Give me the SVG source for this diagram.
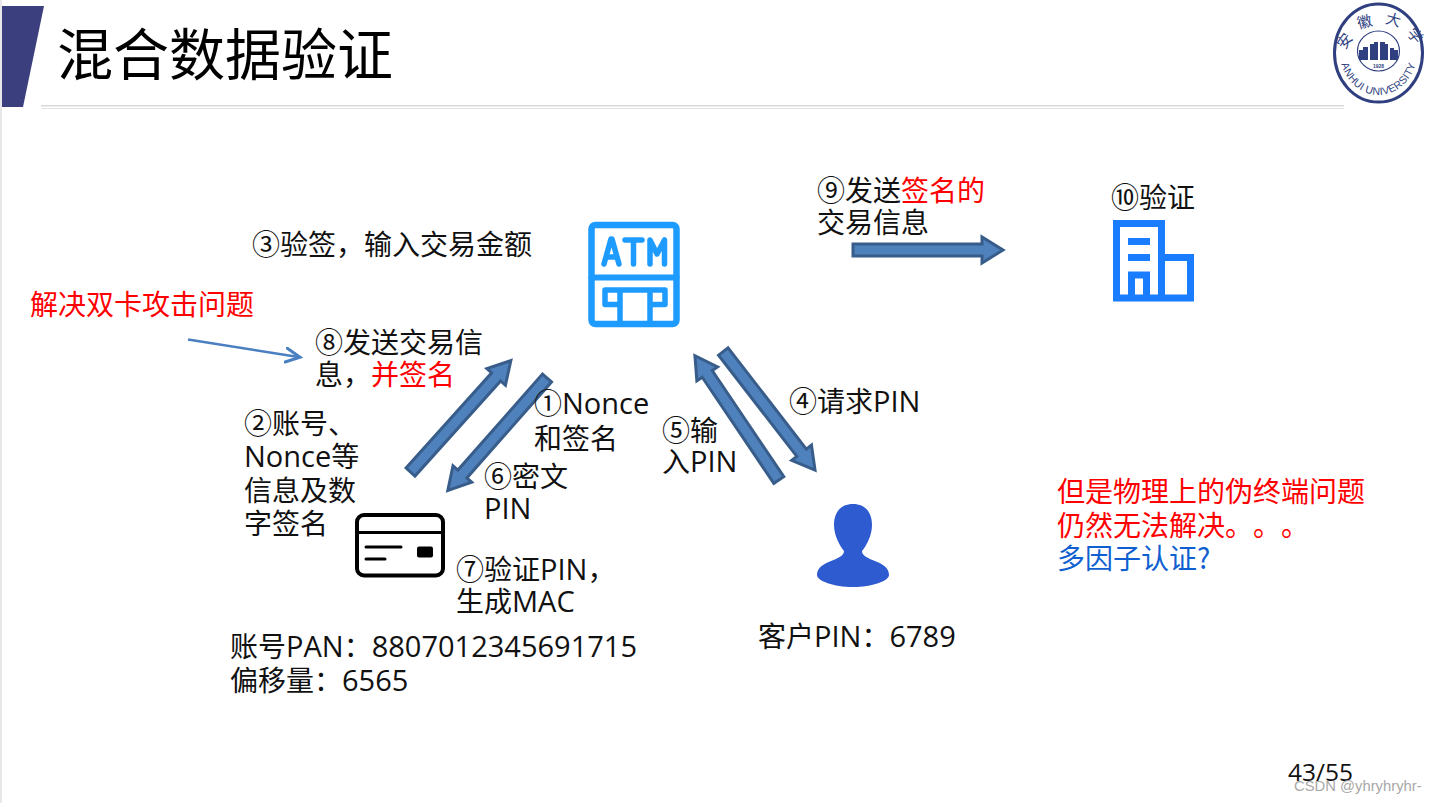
<svg xmlns="http://www.w3.org/2000/svg" width="1436" height="803" viewBox="0 0 1436 803">
<style>
text{font-family:"Noto Sans CJK SC","Open Sans",sans-serif;font-size:28px;fill:#111}
.lat{font-family:"Open Sans","Noto Sans CJK SC",sans-serif;font-size:29px}
.r{fill:#f00}
.b{fill:#0f5fd0}
.blk{fill:#4f81bd;stroke:#385d8a;stroke-width:3}
.ic{fill:none;stroke:#1e9bff;stroke-linejoin:round;stroke-linecap:round}
.bd{fill:none;stroke:#1a7cff;stroke-width:7}
.cd{fill:none;stroke:#000;stroke-width:4;stroke-linecap:round}
.lg{fill:#2f3f80}
.zi{font-size:15px;fill:#2f3f80}
</style>
<defs>
<marker id="open" markerWidth="18" markerHeight="18" refX="15" refY="8" orient="auto" markerUnits="userSpaceOnUse"><path d="M1,1 L15,8 L1,15" fill="none" stroke="#4a7fc1" stroke-width="3" stroke-linecap="round"/></marker>
<path id="ringBot" d="M1339.500,50 A39,45 0 0 0 1417.500,50"/>
</defs>
<rect width="1436" height="803" fill="#fff"/>
<rect x="0" y="0" width="2" height="803" fill="#e8e8e8"/>
<g id="header">
<polygon points="2,6 44,6 23,107 2,107" fill="#3b3f7d"/>
<rect x="41" y="105" width="1303" height="1.500" fill="#d9d9d9"/>
<rect x="41" y="108" width="1303" height="1" fill="#e4e4e4"/>
<text x="57" y="75" style="font-size:56px;fill:#000">混合数据验证</text>
</g>
<g id="logo">
<ellipse cx="1378.500" cy="53" rx="44" ry="49" fill="#fff" stroke="#2f3f80" stroke-width="3"/>
<ellipse cx="1378.500" cy="51" rx="21" ry="20" fill="#fff" stroke="#2f3f80" stroke-width="1.200"/>
<path class="lg" d="M1359,60 V50 H1363 V47 H1368 V60 Z M1370,60 V44 H1374 V42 H1378 V60 Z M1380,60 V42 H1385 V44 H1388 V60 Z M1390,60 V48 H1394 V50 H1398 V60 Z"/>
<text x="1378.500" y="68" text-anchor="middle" style="font-size:5px;font-weight:700;fill:#2f3f80;font-family:'Liberation Sans',sans-serif">1928</text>
<text class="zi" text-anchor="middle" transform="translate(1349,44) rotate(-55)">安</text>
<text class="zi" text-anchor="middle" transform="translate(1366,27) rotate(-15)">徽</text>
<text class="zi" text-anchor="middle" transform="translate(1392,25) rotate(15)">大</text>
<text class="zi" text-anchor="middle" transform="translate(1411,39) rotate(50)">学</text>
<text style="font-size:10.500px;fill:#2f3f80;font-family:'Liberation Sans',sans-serif;letter-spacing:.3px" text-anchor="middle"><textPath href="#ringBot" startOffset="50%">ANHUI UNIVERSITY</textPath></text>
</g>
<g id="connectors">
<polygon class="blk" transform="translate(410.500,472) rotate(-48)" points="0,-6 128,-6 128,-12.500 150,0 128,12.500 128,6 0,6"/>
<polygon class="blk" transform="translate(547,378) rotate(131.400)" points="0,-6 128,-6 128,-12.500 150,0 128,12.500 128,6 0,6"/>
<polygon class="blk" transform="translate(723.300,351.500) rotate(52.300)" points="0,-6 128,-6 128,-12.500 150,0 128,12.500 128,6 0,6"/>
<polygon class="blk" transform="translate(778.800,480) rotate(-124)" points="0,-6 128,-6 128,-12.500 150,0 128,12.500 128,6 0,6"/>
<polygon class="blk" transform="translate(853,250)" points="0,-6 129,-6 129,-13 150,0 129,13 129,6 0,6"/>
<line x1="188" y1="339.500" x2="300" y2="357.300" stroke="#4a7fc1" stroke-width="2.500" marker-end="url(#open)"/>
</g>
<g id="atm">
<rect x="591.500" y="225" width="85" height="99" rx="4" class="ic" style="stroke-width:6.500"/>
<line x1="591.500" y1="277.500" x2="676.500" y2="277.500" class="ic" style="stroke-width:6"/>
<path d="M604,264 L611,239 H612 L619,264 M606.500,257 H616.500 M625,240 H642 M633.500,240 V264 M650,264 V240 L657,254 L664.500,240 V264" class="ic" style="stroke-width:5.500"/>
<path d="M618,304.500 H605 V290 H665 V304.500 H652 M620,290 V323 M650,290 V323" class="ic" style="stroke-width:5.500"/>
</g>
<g id="bank">
<path d="M1116.500,298 V223.500 H1161.500 V298 Z M1161.500,257.500 H1190.500 V298 H1161.500" class="bd"/>
<path d="M1128,241.500 H1150 M1128,257.500 H1150" class="bd"/>
<path d="M1131.500,298 V275 H1146.500 V298" class="bd"/>
</g>
<g id="card">
<rect x="357" y="515" width="86" height="60.500" rx="7" class="cd"/>
<line x1="357" y1="532.500" x2="443" y2="532.500" class="cd" style="stroke-width:3"/>
<line x1="366" y1="547" x2="401" y2="547" class="cd" style="stroke-width:3"/>
<line x1="366" y1="559" x2="385" y2="559" class="cd" style="stroke-width:3"/>
<rect x="417" y="546.500" width="16" height="11" rx="2" fill="#000"/>
</g>
<g id="person">
<path d="M853,504 C866,504 872,513 872,525 C872,536 866,546 862,551 C862,556 868,558 875,561 C883,564 889,568 889,575 C889,581 872,587 853,587 C834,587 817,581 817,575 C817,568 823,564 831,561 C838,558 844,556 844,551 C840,546 834,536 834,525 C834,513 840,504 853,504 Z" fill="#2f5bd0"/>
</g>
<g id="labels">
<text x="252" y="255">③验签，输入交易金额</text>
<text x="30" y="315" class="r">解决双卡攻击问题</text>
<text x="315" y="353">⑧发送交易信</text>
<text x="315" y="385">息，<tspan class="r">并签名</tspan></text>
<text x="244" y="434">②账号、</text>
<text x="244" y="467"><tspan class="lat">Nonce</tspan>等</text>
<text x="244" y="501">信息及数</text>
<text x="244" y="534">字签名</text>
<text x="534" y="414">①<tspan class="lat">Nonce</tspan></text>
<text x="534" y="449">和签名</text>
<text x="484" y="487">⑥密文</text>
<text x="484" y="519" class="lat">PIN</text>
<text x="662" y="441">⑤输</text>
<text x="662" y="472">入<tspan class="lat">PIN</tspan></text>
<text x="789" y="412">④请求<tspan class="lat">PIN</tspan></text>
<text x="456" y="580">⑦验证<tspan class="lat">PIN</tspan>，</text>
<text x="456" y="612">生成<tspan class="lat">MAC</tspan></text>
<text x="230" y="657">账号<tspan class="lat">PAN</tspan>：<tspan class="lat">8807012345691715</tspan></text>
<text x="230" y="691">偏移量：<tspan class="lat">6565</tspan></text>
<text x="758" y="647">客户<tspan class="lat">PIN</tspan>：<tspan class="lat">6789</tspan></text>
<text x="817" y="201">⑨发送<tspan class="r">签名的</tspan></text>
<text x="817" y="233">交易信息</text>
<text x="1111" y="208">⑩验证</text>
<text x="1057" y="502" class="r">但是物理上的伪终端问题</text>
<text x="1057" y="536" class="r">仍然无法解决<tspan x="1225">。</tspan><tspan x="1253">。</tspan><tspan x="1281">。</tspan></text>
<text x="1057" y="569" class="b">多因子认证?</text>
<text x="1288" y="781" class="lat" style="font-size:24.500px">43/55</text>
<text x="1294" y="791" style="font-size:14.800px;fill:#999;font-family:'Liberation Sans',sans-serif;opacity:.85">CSDN @yhryhryhr-</text>
</g>
</svg>
